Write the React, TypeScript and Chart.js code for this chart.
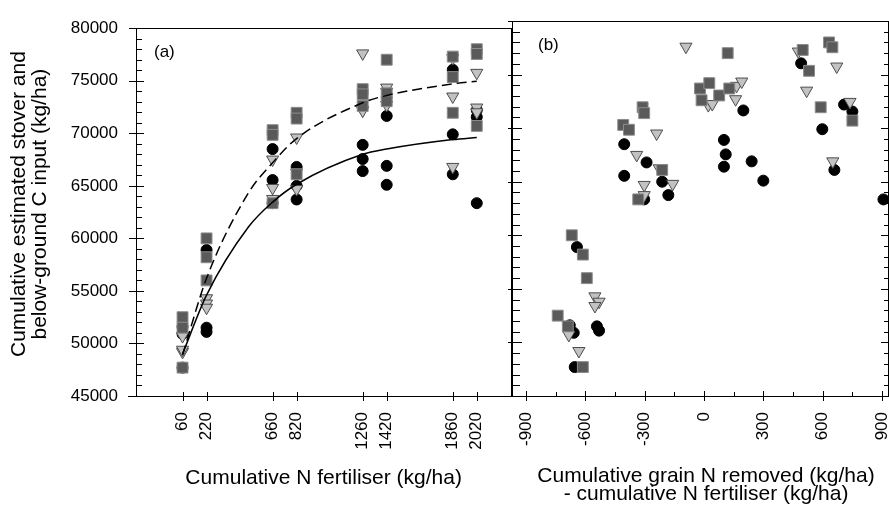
import React, { useEffect, useRef } from 'react';
import { Chart, registerables } from 'chart.js';

Chart.register(...registerables);

const FONT = "'Liberation Sans', Arial, Helvetica, sans-serif";

// ---- shared y axis ----
const Y_MIN = 45000;
const Y_MAX = 80000;
const Y_TICKS = [45000, 50000, 55000, 60000, 65000, 70000, 75000, 80000];
const Y_MINOR_STEP = 1000;
const Y_TITLE = ['Cumulative estimated stover and', 'below-ground C input (kg/ha)'];

// ---- panel (a) ----
const FERT = [60, 220, 660, 820, 1260, 1420, 1860, 2020];
const SQUARES_A = [
  [52500, 51500, 47700],
  [60000, 58200, 56000],
  [70300, 69850, 63350],
  [71950, 71400, 66100],
  [74200, 73700, 72600],
  [77000, 73800, 73050],
  [77300, 75350, 71950],
  [78000, 77550, 70700],
];
const CIRCLES_A = [
  [51600, 50900, 47700],
  [58900, 51500, 51100],
  [68500, 65550, 63350],
  [66800, 65000, 63700],
  [68900, 67550, 66400],
  [71650, 66900, 65100],
  [76050, 69900, 66100],
  [72200, 71550, 63350],
];
const TRIANGLES_A = [
  [50700, 49200, 49400],
  [54300, 53800, 53400],
  [67500, 64800, 63750],
  [69600, 66250, 64700],
  [77600, 72250, 72150],
  [74350, 73950, 72700],
  [77150, 73500, 66800],
  [75750, 72450, 72000],
];
const CURVE_X = [60, 220, 500, 660, 820, 1260, 1420, 1860, 2020];
const CURVE_SOLID = [49000, 54600, 61100, 63450, 65150, 68000, 68500, 69400, 69600];
const CURVE_DASHED = [48900, 56200, 64350, 67200, 69500, 72900, 73600, 74700, 74950];
const X_TITLE_A = 'Cumulative N fertiliser (kg/ha)';

// ---- panel (b) ----
const B_TICKS = [-900, -600, -300, 0, 300, 600, 900];
const B_MINOR = [-750, -450, -150, 150, 450, 750];
const SQUARES_B: [number, number][] = [
  [-668, 60000], [-612, 58200], [-592, 56000], [-739, 52500], [-688, 51500], [-612, 47700],
  [-310, 71950], [-302, 71400], [-408, 70300], [-379, 69850], [-211, 66100], [-332, 63350],
  [-20, 73700], [27, 74200], [-12, 72600], [77, 73050], [128, 73700], [120, 77000],
  [632, 78000], [649, 77550], [499, 77300], [531, 75350], [590, 71950], [750, 70700],
];
const CIRCLES_B: [number, number][] = [
  [-642, 58900], [-541, 51500], [-530, 51100], [-678, 51600], [-658, 50900], [-653, 47700],
  [-403, 68500], [-290, 66800], [-403, 65550], [-211, 65000], [-180, 63750], [-302, 63350],
  [199, 71650], [101, 68900], [110, 67550], [101, 66400], [241, 66900], [300, 65100],
  [491, 76050], [598, 69900], [708, 72200], [750, 71550], [659, 66100], [907, 63350],
];
const TRIANGLES_B: [number, number][] = [
  [-551, 54300], [-530, 53800], [-551, 53400], [-683, 50700], [-632, 49200],
  [-239, 69500], [-340, 67500], [-226, 66250], [-158, 64800], [-302, 64700], [-302, 63750],
  [-91, 77600], [22, 72150], [42, 72250], [165, 73950], [191, 74350], [160, 72700],
  [477, 77150], [671, 75750], [519, 73500], [738, 72450], [651, 66900],
];
const X_TITLE_B = ['Cumulative grain N removed (kg/ha)', '- cumulative N fertiliser (kg/ha)'];

// ---- styles ----
const SQ_FILL = '#5a5a5a';
const SQ_BORDER = '#8c8c8c';
const TRI_FILL = '#c2c2c2';
const TRI_BORDER = '#4d4d4d';
const INK = '#000000';

const colPoints = (cols: number[][]) =>
  cols.flatMap((vals, i) => vals.map((v) => ({ x: FERT[i], y: v })));
const pairPoints = (pairs: [number, number][]) => pairs.map(([x, y]) => ({ x, y }));

const squareDs = (data: any[]) => ({
  data, pointStyle: 'rect', pointRadius: 7.7, backgroundColor: SQ_FILL,
  borderColor: SQ_BORDER, borderWidth: 1, showLine: false,
});
const triDs = (data: any[]) => ({
  data, pointStyle: 'triangle', pointRotation: 180, pointRadius: 7, backgroundColor: TRI_FILL,
  borderColor: TRI_BORDER, borderWidth: 1, showLine: false,
});
const circleDs = (data: any[]) => ({
  data, pointStyle: 'circle', pointRadius: 5.5, backgroundColor: INK,
  borderColor: INK, borderWidth: 1, showLine: false,
});

const px = (v: number) => Math.round(v) + 0.5;

function hLine(ctx: CanvasRenderingContext2D, x1: number, x2: number, y: number) {
  ctx.beginPath(); ctx.moveTo(x1, px(y)); ctx.lineTo(x2, px(y)); ctx.stroke();
}
function vLine(ctx: CanvasRenderingContext2D, x: number, y1: number, y2: number) {
  ctx.beginPath(); ctx.moveTo(px(x), y1); ctx.lineTo(px(x), y2); ctx.stroke();
}

function yMinorValues() {
  const out: number[] = [];
  for (let v = Y_MIN; v <= Y_MAX; v += Y_MINOR_STEP) if (!Y_TICKS.includes(v)) out.push(v);
  return out;
}

const framePluginA = {
  id: 'frameA',
  afterDraw(chart: any) {
    const { ctx, chartArea: { left, right, top, bottom }, scales: { x, y } } = chart;
    ctx.save();
    ctx.strokeStyle = INK;
    ctx.lineWidth = 1;
    hLine(ctx, left, right + 1, top);
    hLine(ctx, left - 8, right + 1, bottom);
    vLine(ctx, left, top, bottom + 1);
    vLine(ctx, right, top, bottom + 1);
    Y_TICKS.forEach((v) => hLine(ctx, left - 7, left + 8, y.getPixelForValue(v)));
    yMinorValues().forEach((v) => hLine(ctx, left, left + 6, y.getPixelForValue(v)));
    FERT.forEach((v) => vLine(ctx, x.getPixelForValue(v), bottom - 4, bottom + 5));
    ctx.fillStyle = INK;
    ctx.font = `17px ${FONT}`;
    ctx.textAlign = 'left';
    ctx.textBaseline = 'middle';
    ctx.fillText('(a)', left + 18, top + 24);
    // y-axis title (two rotated lines)
    ctx.font = `21px ${FONT}`;
    ctx.textAlign = 'center';
    const cy = (top + bottom) / 2 - 8;
    [19, 40].forEach((tx, i) => {
      ctx.save();
      ctx.translate(tx, cy);
      ctx.rotate(-Math.PI / 2);
      ctx.fillText(Y_TITLE[i], 0, 0);
      ctx.restore();
    });
    ctx.restore();
  },
};

const framePluginB = {
  id: 'frameB',
  afterDraw(chart: any) {
    const { ctx, chartArea: { left, right, top, bottom }, scales: { x, y } } = chart;
    ctx.save();
    ctx.strokeStyle = INK;
    ctx.lineWidth = 1;
    hLine(ctx, left, right + 1, top);
    hLine(ctx, left - 2, right + 1, bottom);
    vLine(ctx, left, top, bottom + 1);
    vLine(ctx, right, top, bottom + 1);
    Y_TICKS.forEach((v) => {
      const p = y.getPixelForValue(v);
      hLine(ctx, left - 4, left + 10, p);
      hLine(ctx, right - 7, right, p);
    });
    yMinorValues().forEach((v) => {
      const p = y.getPixelForValue(v);
      hLine(ctx, left, left + 8, p);
      hLine(ctx, right - 4, right, p);
    });
    B_TICKS.forEach((v) => vLine(ctx, x.getPixelForValue(v), bottom - 5, bottom + 5));
    B_MINOR.forEach((v) => vLine(ctx, x.getPixelForValue(v), bottom - 4, bottom));
    ctx.fillStyle = INK;
    ctx.font = `17px ${FONT}`;
    ctx.textAlign = 'left';
    ctx.textBaseline = 'middle';
    ctx.fillText('(b)', left + 26, top + 24);
    ctx.font = `21px ${FONT}`;
    ctx.textAlign = 'center';
    const cx = (left + right) / 2 + 6;
    ctx.fillText(X_TITLE_B[0], cx, 476);
    ctx.fillText(X_TITLE_B[1], cx, 494.5);
    ctx.restore();
  },
};

const tickFont = { family: FONT, size: 17 };

export default function App() {
  const refA = useRef<HTMLCanvasElement>(null);
  const refB = useRef<HTMLCanvasElement>(null);

  useEffect(() => {
    const chartA = new Chart(refA.current as HTMLCanvasElement, {
      type: 'scatter',
      data: {
        datasets: [
          {
            data: CURVE_X.map((x, i) => ({ x, y: CURVE_DASHED[i] })),
            showLine: true, borderColor: INK, borderWidth: 1.5, borderDash: [10, 5],
            pointRadius: 0, cubicInterpolationMode: 'monotone', fill: false,
          } as any,
          {
            data: CURVE_X.map((x, i) => ({ x, y: CURVE_SOLID[i] })),
            showLine: true, borderColor: INK, borderWidth: 1.5,
            pointRadius: 0, cubicInterpolationMode: 'monotone', fill: false,
          } as any,
          squareDs(colPoints(SQUARES_A)) as any,
          triDs(colPoints(TRIANGLES_A)) as any,
          circleDs(colPoints(CIRCLES_A)) as any,
        ],
      },
      options: {
        responsive: false,
        animation: false,
        devicePixelRatio: 1,
        events: [],
        layout: { padding: { top: 21, right: 8, left: 0, bottom: 0 } },
        plugins: { legend: { display: false }, tooltip: { enabled: false } },
        scales: {
          x: {
            type: 'linear', min: -250, max: 2250,
            grid: { display: false, drawTicks: false }, border: { display: false },
            ticks: {
              autoSkip: false, minRotation: 90, maxRotation: 90, padding: 16,
              color: INK, font: tickFont, callback: (v: any) => String(v),
            },
            afterBuildTicks: (s: any) => { s.ticks = FERT.map((v) => ({ value: v })); },
            afterFit: (s: any) => { s.height = 111; },
            title: {
              display: true, text: X_TITLE_A, color: INK,
              font: { family: FONT, size: 21, lineHeight: 0.9 },
              padding: { top: 0, bottom: 19.5 },
            },
          },
          y: {
            type: 'linear', min: Y_MIN, max: Y_MAX,
            grid: { display: false, drawTicks: false }, border: { display: false },
            ticks: { padding: 18, color: INK, font: tickFont, callback: (v: any) => String(v) },
            afterBuildTicks: (s: any) => { s.ticks = Y_TICKS.map((v) => ({ value: v })); },
            afterFit: (s: any) => { s.width = 136; },
          },
        } as any,
      },
      plugins: [framePluginA],
    } as any);

    const chartB = new Chart(refB.current as HTMLCanvasElement, {
      type: 'scatter',
      data: {
        datasets: [
          squareDs(pairPoints(SQUARES_B)) as any,
          triDs(pairPoints(TRIANGLES_B)) as any,
          circleDs(pairPoints(CIRCLES_B)) as any,
        ],
      },
      options: {
        responsive: false,
        animation: false,
        devicePixelRatio: 1,
        events: [],
        layout: { padding: { top: 21, right: 40, left: 32, bottom: 0 } },
        plugins: { legend: { display: false }, tooltip: { enabled: false } },
        scales: {
          x: {
            type: 'linear', min: -970, max: 930,
            grid: { display: false, drawTicks: false }, border: { display: false },
            ticks: {
              autoSkip: false, minRotation: 90, maxRotation: 90, padding: 16,
              color: INK, font: tickFont, callback: (v: any) => String(v),
            },
            afterBuildTicks: (s: any) => { s.ticks = B_TICKS.map((v) => ({ value: v })); },
            afterFit: (s: any) => { s.height = 111; },
          },
          y: { type: 'linear', min: Y_MIN, max: Y_MAX, display: false },
        } as any,
      },
      plugins: [framePluginB],
    } as any);

    return () => {
      chartA.destroy();
      chartB.destroy();
    };
  }, []);

  return (
    <div
      style={{
        position: 'fixed', left: 0, top: 0, width: 889, height: 507,
        overflow: 'hidden', background: '#ffffff',
      }}
    >
      <canvas ref={refA} width={520} height={507} style={{ position: 'absolute', left: 0, top: 0 }} />
      <canvas ref={refB} width={448} height={507} style={{ position: 'absolute', left: 480, top: 0 }} />
    </div>
  );
}
